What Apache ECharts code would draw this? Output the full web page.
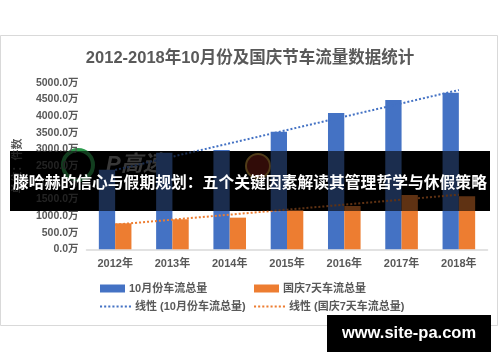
<!DOCTYPE html>
<html>
<head>
<meta charset="utf-8">
<script src="https://cdn.jsdelivr.net/npm/echarts@6/dist/echarts.min.js"></script>
<style>html,body{margin:0;padding:0;background:#fff;}#c{width:500px;height:362px;}</style>
</head>
<body>
<div id="c"></div>
<script>
var categories = ['2012年','2013年','2014年','2015年','2016年','2017年','2018年'];
var octTotal = [2390, 2900, 2980, 3530, 4090, 4480, 4700];
var holidayTotal = [780, 900, 950, 1180, 1300, 1630, 1590];
var octTrend = [2380, 2780, 3180, 3580, 3980, 4380, 4780];
var holidayTrend = [740, 890, 1040, 1190, 1340, 1490, 1640];
var seriesNames = ['10月份车流总量', '国庆7天车流总量', '线性 (10月份车流总量)', '线性 (国庆7天车流总量)'];
var titleText = '2012-2018年10月份及国庆节车流量数据统计';
var yAxisName = '单位：件数';
var bannerText = '滕哈赫的信心与假期规划：五个关键因素解读其管理哲学与休假策略';
var siteText = 'www.site-pa.com';

var FONT = '"Liberation Sans", "Noto Sans CJK SC", sans-serif';
var GRAY = '#595959';
var BLUE = '#4472C4', ORANGE = '#ED7D31';
var DOTS = 'path://M0 0h2v2H0z M4 0h2v2H4z M8 0h2v2H8z M12 0h2v2h-2z M16 0h2v2h-2z M20 0h2v2h-2z M24 0h2v2h-2z M28 0h2v2h-2z';

var chart = echarts.init(document.getElementById('c'), null, {renderer: 'canvas'});

function legendAt(left, top, name, iconW, iconH, icon) {
  return {
    left: left, top: top, data: [{name: name, icon: icon}], itemWidth: iconW, itemHeight: iconH,
    itemGap: 0, padding: 0, selectedMode: false,
    textStyle: {fontSize: 11, fontWeight: 'bold', color: GRAY, fontFamily: FONT, padding: [0,0,0,-1]}
  };
}

chart.setOption({
  backgroundColor: '#ffffff',
  animation: false,
  title: {
    text: titleText, left: 'center', top: 45,
    textStyle: {fontSize: 16.5, fontWeight: 'bold', color: GRAY, fontFamily: FONT}
  },
  legend: [
    legendAt(100, 283, seriesNames[0], 25, 8, 'rect'),
    legendAt(254, 283, seriesNames[1], 25, 8, 'rect'),
    legendAt(100, 301, seriesNames[2], 31, 2.5, DOTS),
    legendAt(254, 301, seriesNames[3], 31, 2.5, DOTS)
  ],
  grid: {left: 86.5, right: 12.5, top: 82.7, bottom: 112.7, containLabel: false},
  xAxis: {
    type: 'category', data: categories,
    axisLine: {lineStyle: {color: '#D9D9D9', width: 1.5}},
    axisTick: {show: false},
    axisLabel: {fontSize: 11, fontWeight: 'bold', color: GRAY, fontFamily: FONT, margin: 9}
  },
  yAxis: {
    type: 'value', min: 0, max: 5000, interval: 500,
    name: yAxisName, nameLocation: 'middle', nameRotate: 90, nameGap: 63,
    nameTextStyle: {fontSize: 11, fontWeight: 'bold', color: GRAY, fontFamily: FONT},
    splitLine: {show: false}, axisLine: {show: false}, axisTick: {show: false},
    axisLabel: {fontSize: 10.5, fontWeight: 'bold', color: GRAY, fontFamily: FONT, margin: 8,
      formatter: function (v) { return v.toFixed(1) + '万'; }}
  },
  series: [
    {name: seriesNames[0], type: 'bar', data: octTotal, barWidth: 16.3, barGap: '0%',
      itemStyle: {color: BLUE}, z: 2},
    {name: seriesNames[1], type: 'bar', data: holidayTotal, barWidth: 16.3, barGap: '0%',
      itemStyle: {color: ORANGE}, z: 2},
    {name: seriesNames[2], type: 'line', data: octTrend, symbol: 'none', z: 3,
      itemStyle: {color: BLUE},
      lineStyle: {color: BLUE, width: 2, type: [2, 2], cap: 'butt'}},
    {name: seriesNames[3], type: 'line', data: holidayTrend, symbol: 'none', z: 3,
      itemStyle: {color: ORANGE},
      lineStyle: {color: ORANGE, width: 2, type: [2, 2], cap: 'butt'}}
  ],
  graphic: [
    {type: 'rect', z: -5, silent: true,
      shape: {x: 0.5, y: 35.5, width: 497, height: 290},
      style: {fill: null, stroke: '#D9D9D9', lineWidth: 1}},
    {type: 'rect', z: -4, silent: true,
      shape: {x: 10, y: 151, width: 480, height: 60},
      style: {fill: '#000000'}},
    {type: 'circle', z: -3, silent: true,
      shape: {cx: 78, cy: 165, r: 15},
      style: {fill: null, stroke: '#2E9B4E', lineWidth: 4}},
    {type: 'text', z: -3, silent: true, x: 106, y: 165,
      style: {text: 'P高速', fontSize: 22, fontStyle: 'italic', fontWeight: 'bold',
        fill: '#8C8C8C', fontFamily: FONT, verticalAlign: 'middle'}},
    {type: 'circle', z: -3, silent: true,
      shape: {cx: 258, cy: 166, r: 12},
      style: {fill: '#7A1E14', stroke: '#C8963C', lineWidth: 2}},
    {type: 'rect', z: 50, silent: true,
      shape: {x: 10, y: 151, width: 480, height: 60},
      style: {fill: 'rgba(0,0,0,0.6)'}},
    {type: 'text', z: 51, silent: true, x: 250, y: 182,
      style: {text: bannerText, fontSize: 15.8, fontWeight: 'bold', fill: '#ffffff',
        fontFamily: '"Noto Sans CJK SC", sans-serif', align: 'center', verticalAlign: 'middle'}},
    {type: 'rect', z: 50, silent: true,
      shape: {x: 327, y: 315, width: 164, height: 37},
      style: {fill: '#000000'}},
    {type: 'text', z: 51, silent: true, x: 409, y: 333.5,
      style: {text: siteText, fontSize: 16.5, fontWeight: 'bold', fill: '#ffffff',
        fontFamily: FONT, align: 'center', verticalAlign: 'middle'}}
  ]
});
</script>
</body>
</html>
